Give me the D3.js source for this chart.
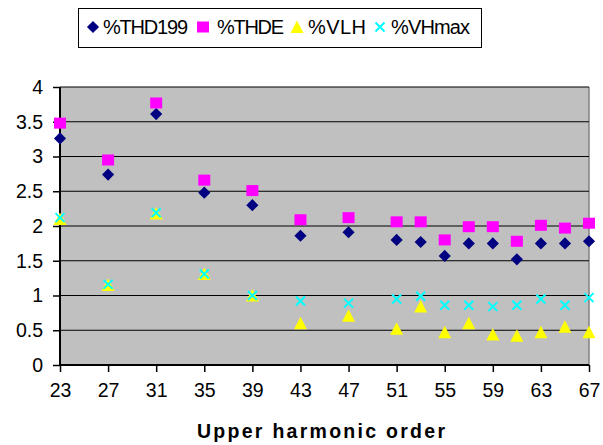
<!DOCTYPE html>
<html>
<head>
<meta charset="utf-8">
<script src="https://cdn.jsdelivr.net/npm/d3@7"></script>
<style>
body{margin:0;background:#fff;}
text{font-family:Arial,"Liberation Sans",sans-serif;}
</style>
</head>
<body>
<script>
const svg_width = 603, svg_height = 445;

// harmonic orders
var harmonics = [23,27,31,35,39,43,47,51,53,55,57,59,61,63,65,67];
var thd199 = [3.26,2.74,3.61,2.48,2.30,1.86,1.91,1.80,1.77,1.57,1.75,1.75,1.52,1.75,1.75,1.78];
var thde   = [3.48,2.95,3.77,2.66,2.51,2.09,2.12,2.06,2.06,1.80,1.99,1.99,1.78,2.01,1.97,2.04];
var vlh    = [2.10,1.15,2.18,1.31,1.00,0.60,0.71,0.52,0.84,0.47,0.60,0.44,0.42,0.47,0.55,0.47];
var vhmax  = [2.12,1.16,2.19,1.31,1.00,0.92,0.89,0.95,0.99,0.86,0.86,0.84,0.86,0.95,0.86,0.97];
var xTicks = [23,27,31,35,39,43,47,51,55,59,63,67];
var yTicks = [0,0.5,1,1.5,2,2.5,3,3.5,4];
var seriesNames = ["%THD199","%THDE","%VLH","%VHmax"];

var svgContainer = d3.select("body")
.append("svg")
.attr("width",svg_width)
.attr("height",svg_height);

var xScale = d3.scaleLinear().domain([23,67]).range([60,589]);
var yScale = d3.scaleLinear().domain([0,4]).range([365,87]);

//plot area
svgContainer.append("rect")
.attr("x",xScale(23)).attr("y",yScale(4))
.attr("width",xScale(67)-xScale(23)).attr("height",yScale(0)-yScale(4))
.style("fill","#C0C0C0");
svgContainer.append("line")
.attr("x1",xScale(67)).attr("x2",xScale(67))
.attr("y1",yScale(4)).attr("y2",yScale(0))
.attr("stroke","#808080").attr("stroke-width",1.5);

//gridlines
svgContainer.append("g").selectAll("line")
.data(yTicks.filter(function(d){return d>0}))
.enter().append("line")
.attr("x1",xScale(23)).attr("x2",xScale(67))
.attr("y1",function(d){return yScale(d)}).attr("y2",function(d){return yScale(d)})
.attr("stroke","black").attr("stroke-width",1.2);

//axes
var yAxis = d3.axisLeft(yScale).tickValues(yTicks).tickSize(7).tickPadding(10)
.tickFormat(function(d){return d});
var xAxis = d3.axisBottom(xScale).tickValues(xTicks).tickSize(7).tickPadding(11)
.tickFormat(function(d){return d});

var gy = svgContainer.append("g").attr("transform","translate("+xScale(23)+",0)").call(yAxis);
var gx = svgContainer.append("g").attr("transform","translate(0,"+yScale(0)+")").call(xAxis);
[gx,gy].forEach(function(g){
	g.select(".domain").attr("stroke","black").attr("stroke-width",2);
	g.selectAll(".tick line").attr("stroke","black").attr("stroke-width",1.5);
	g.selectAll(".tick text").attr("fill","black").style("font-size","19.5px").style("font-family","Arial, 'Liberation Sans', sans-serif");
});
gx.select(".domain").attr("d","M"+xScale(23)+",0H"+xScale(67));
gy.select(".domain").attr("d","M0,"+yScale(0)+"V"+yScale(4));

//axis title
svgContainer.append("text")
.attr("x",321).attr("y",438)
.attr("text-anchor","middle")
.attr("textLength",248)
.style("font-size","19.5px").style("font-weight","bold")
.text("Upper harmonic order");

//marker shapes
function drawMarker(g,type,x,y){
	if(type==0){
		g.append("path").attr("d",d3.symbol().type(d3.symbolSquare).size(74)())
		.attr("transform","translate("+x+","+y+") rotate(45)")
		.style("fill","#000080");
	} else if(type==1){
		g.append("rect").attr("x",x-6).attr("y",y-5.5).attr("width",12).attr("height",11)
		.style("fill","#FF00FF");
	} else if(type==2){
		var t = d3.path();
		t.moveTo(x,y-6.5); t.lineTo(x+6.5,y+6); t.lineTo(x-6.5,y+6); t.closePath();
		g.append("path").attr("d",t.toString())
		.style("fill","#FFFF00");
	} else {
		var p = d3.path();
		p.moveTo(x-4.5,y-4.5); p.lineTo(x+4.5,y+4.5);
		p.moveTo(x-4.5,y+4.5); p.lineTo(x+4.5,y-4.5);
		g.append("path").attr("d",p.toString())
		.attr("stroke","#00FFFF").attr("stroke-width",2).attr("fill","none");
	}
}

var allSeries = [thd199,thde,vlh,vhmax];
for(var s in allSeries){
	var g = svgContainer.append("g");
	for(var i in harmonics){
		drawMarker(g,+s,xScale(harmonics[i]),yScale(allSeries[s][i]));
	}
}

//legend
var legend = svgContainer.append("g");
legend.append("rect").attr("x",78.5).attr("y",8.5).attr("width",403).attr("height",39)
.attr("fill","white").attr("stroke","black").attr("stroke-width",1);
var legendMarkX = [93,203,297,380], legendTextX = [103,217,308,391], legendTextW = [85,67,58,79];
for(var k in seriesNames){
	drawMarker(legend,+k,legendMarkX[k],27);
	legend.append("text").attr("x",legendTextX[k]).attr("y",34)
	.attr("textLength",legendTextW[k])
	.style("font-size","20px")
	.text(seriesNames[k]);
}
</script>
</body>
</html>
